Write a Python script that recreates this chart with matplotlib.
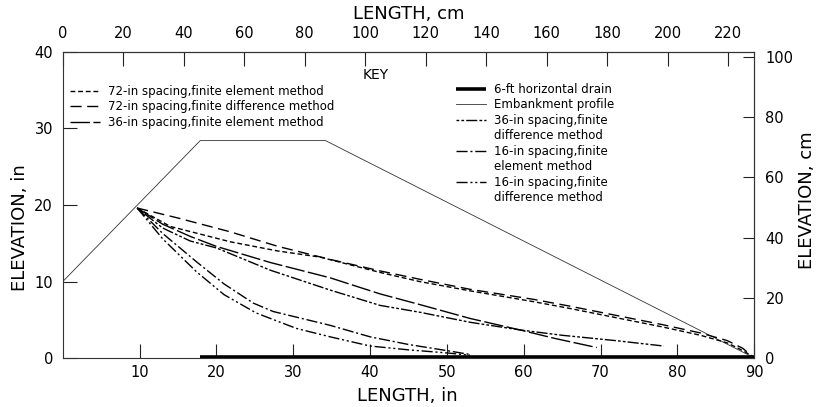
import matplotlib
matplotlib.use('Agg')
import matplotlib.pyplot as plt
from matplotlib.lines import Line2D

plt.rcParams['font.family'] = ['DejaVu Sans']

# ---------------- data (inches) ----------------
embank_x = [0, 17.9, 34.2, 89.7]
embank_y = [10, 28.4, 28.4, 0.2]

drain_x = [17.9, 89.9]
drain_y = [0.2, 0.2]

fd72_x = [9.7, 15, 21.8, 28, 34.8, 41.3, 46.5, 53, 61.2, 66, 72, 78, 83, 86.5, 88.5, 89.7]
fd72_y = [19.6, 18.3, 16.5, 14.6, 12.9, 11.4, 10.3, 9.0, 7.7, 6.8, 5.6, 4.4, 3.3, 2.3, 1.3, 0.3]

fe72_x = [9.7, 14, 21.8, 28, 33.5, 41.3, 46.5, 53, 61.2, 66, 72, 78, 83, 86.5, 88.5, 89.7]
fe72_y = [19.6, 17.2, 15.2, 14.0, 13.2, 11.2, 10.0, 8.8, 7.4, 6.5, 5.3, 4.1, 3.0, 2.0, 1.0, 0.3]

fe36_x = [9.7, 13, 16.6, 20, 27, 34.8, 41.3, 46.5, 53, 59.5, 64, 69.5]
fe36_y = [19.6, 17.5, 15.9, 14.6, 12.5, 10.5, 8.4, 7.0, 5.2, 3.7, 2.6, 1.4]

fd36_x = [9.7, 13, 16.6, 20, 27, 34.8, 41.3, 46.5, 53, 59.5, 65, 72, 78.2]
fd36_y = [19.6, 17.0, 15.3, 14.4, 11.5, 8.9, 6.9, 6.0, 4.7, 3.7, 3.0, 2.3, 1.6]

fe16_x = [9.7, 13, 17.4, 21, 24.8, 27.4, 34.8, 40, 45, 50, 53]
fe16_y = [19.6, 16.3, 12.6, 9.7, 7.2, 6.1, 4.3, 2.8, 1.8, 1.0, 0.5]

fd16_x = [9.7, 13, 17.4, 21, 25.2, 30.4, 34.8, 40, 45, 50, 53]
fd16_y = [19.6, 15.6, 11.3, 8.3, 5.9, 3.9, 2.8, 1.6, 1.1, 0.7, 0.4]

x_ticks_in = [10, 20, 30, 40, 50, 60, 70, 80, 90]
y_ticks_in = [0, 10, 20, 30, 40]
x_ticks_cm = [0, 20, 40, 60, 80, 100, 120, 140, 160, 180, 200, 220]
y_ticks_cm = [0, 20, 40, 60, 80, 100]

# ---------------- figure ----------------
fig = plt.figure(figsize=(8.16, 4.07), dpi=100)
ax = fig.add_axes([0.0768, 0.1197, 0.8476, 0.7533])

lw = 1.0
l_emb, = ax.plot(embank_x, embank_y, color='#333333', lw=0.6, label='Embankment profile')
l_drain, = ax.plot(drain_x, drain_y, color='black', lw=2.6, solid_capstyle='butt',
                   clip_on=False, label='6-ft horizontal drain')
l_fe72, = ax.plot(fe72_x, fe72_y, color='black', lw=lw, linestyle=(0, (3.5, 2)),
                  label='72-in spacing,finite element method')
l_fd72, = ax.plot(fd72_x, fd72_y, color='black', lw=lw, linestyle=(0, (8, 4)),
                  label='72-in spacing,finite difference method')
l_fe36, = ax.plot(fe36_x, fe36_y, color='black', lw=lw, linestyle=(0, (14, 2.5)),
                  label='36-in spacing,finite element method')
l_fd36, = ax.plot(fd36_x, fd36_y, color='black', lw=lw, linestyle=(0, (2, 1.5, 2, 1.5, 8, 1.5)),
                  label='36-in spacing,finite difference method')
l_fe16, = ax.plot(fe16_x, fe16_y, color='black', lw=lw, linestyle=(0, (8, 2, 1.5, 2)),
                  label='16-in spacing,finite element method')
l_fd16, = ax.plot(fd16_x, fd16_y, color='black', lw=lw, linestyle=(0, (8, 2, 1.5, 2, 1.5, 2)),
                  label='16-in spacing,finite difference method')

ax.set_xlim(0, 90)
ax.set_ylim(0, 40)
ax.set_xticks(x_ticks_in)
ax.set_yticks(y_ticks_in)
ax.tick_params(direction='in', length=10, width=0.8, labelsize=10.5, color='#222222')
ax.tick_params(axis='x', pad=5)
ax.tick_params(axis='y', pad=7)
for s in ax.spines.values():
    s.set_linewidth(0.8)
    s.set_color('#333333')

secx = ax.secondary_xaxis('top', functions=(lambda v: v * 2.54, lambda v: v / 2.54))
secx.set_xticks(x_ticks_cm)
secx.tick_params(direction='in', length=10, width=0.8, pad=8, labelsize=10.5, color='#222222')
secy = ax.secondary_yaxis('right', functions=(lambda v: v * 2.54, lambda v: v / 2.54))
secy.set_yticks(y_ticks_cm)
secy.tick_params(direction='in', length=8, width=0.8, pad=8, labelsize=10.5, color='#222222')
for sa in (secx, secy):
    for s in sa.spines.values():
        s.set_linewidth(0.8)
        s.set_color('#333333')

ax.set_xlabel('LENGTH, in', fontsize=13, va='center')
ax.xaxis.set_label_coords(0.499, -0.123)
ax.set_ylabel('ELEVATION, in', fontsize=13, va='center')
ax.yaxis.set_label_coords(-0.062, 0.425)
secx.set_xlabel('LENGTH, cm', fontsize=13, va='center')
secx.xaxis.set_label_coords(0.5, 1.123, transform=ax.transAxes)
secy.set_ylabel('ELEVATION, cm', fontsize=13, va='center', rotation=90)
secy.yaxis.set_label_coords(1.076, 0.516, transform=ax.transAxes)

# ---------------- key ----------------
fig.text(376 / 816, 1 - 75 / 407, 'KEY', ha='center', va='center', fontsize=10)

leg_kw = dict(loc='upper left', bbox_transform=fig.transFigure, frameon=False,
              fontsize=8.5, handlelength=2.5, handletextpad=0.7, labelspacing=0.21,
              borderpad=0, borderaxespad=0)
leg1 = ax.legend(handles=[l_fe72, l_fd72, l_fe36],
                 labels=['72-in spacing,finite element method',
                         '72-in spacing,finite difference method',
                         '36-in spacing,finite element method'],
                 bbox_to_anchor=(70 / 816, 1 - 85.0 / 407), **leg_kw)
ax.add_artist(leg1)

blank = Line2D([], [], linestyle='none')
leg2 = ax.legend(handles=[l_drain, l_emb, l_fd36, blank, l_fe16, blank, l_fd16, blank],
                 labels=['6-ft horizontal drain', 'Embankment profile',
                         '36-in spacing,finite', 'difference method',
                         '16-in spacing,finite', 'element method',
                         '16-in spacing,finite', 'difference method'],
                 bbox_to_anchor=(456 / 816, 1 - 83.0 / 407), **leg_kw)

fig.savefig('out.png', dpi=100)
